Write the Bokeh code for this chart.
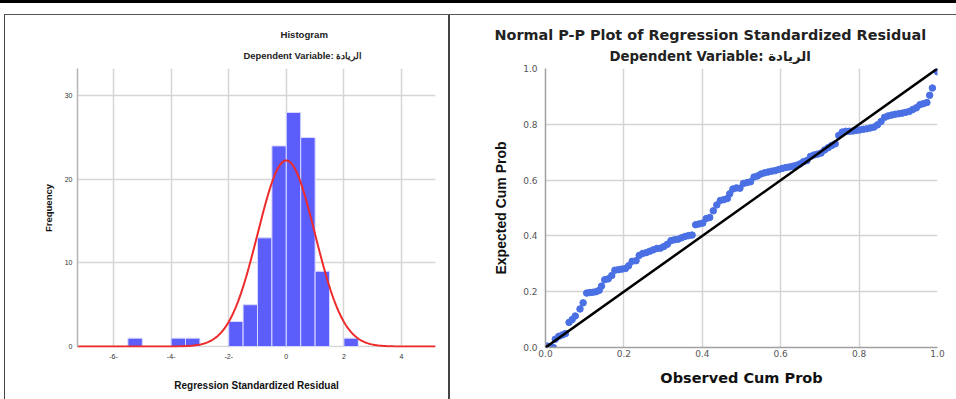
import numpy as np
from bokeh.plotting import figure
from bokeh.layouts import row, column
from bokeh.models import Title, FixedTicker, Range1d, Slope, Div
from bokeh.embed import file_html
from bokeh.resources import INLINE

# ---------------- Histogram data ----------------
bin_left = [-5.5, -4.0, -3.5, -2.0, -1.5, -1.0, -0.5, 0.0, 0.5, 1.0, 2.0]
bin_width = 0.5
freq = [1, 1, 1, 3, 5, 13, 24, 28, 25, 9, 1]
resid_mean = 0.0
resid_sd = 0.995
n_cases = 111
hist_xticks = [-6, -4, -2, 0, 2, 4]
hist_xtick_labels = ["-6-", "-4-", "-2-", "0", "2", "4"]
hist_yticks = [0, 10, 20, 30]

# ---------------- P-P plot data ----------------
obs_cum = [0.005, 0.02, 0.025, 0.034, 0.043, 0.051, 0.06, 0.068, 0.076, 0.088, 0.096,
           0.105, 0.113, 0.121, 0.129, 0.137, 0.143, 0.151, 0.16, 0.169, 0.177, 0.186,
           0.195, 0.204, 0.212, 0.221, 0.231, 0.239, 0.248, 0.257, 0.266, 0.275, 0.284,
           0.293, 0.302, 0.311, 0.32, 0.329, 0.338, 0.347, 0.356, 0.365, 0.374, 0.383,
           0.392, 0.401, 0.41, 0.419, 0.428, 0.437, 0.446, 0.455, 0.464, 0.47, 0.478,
           0.487, 0.496, 0.505, 0.514, 0.523, 0.532, 0.541, 0.55, 0.559, 0.568, 0.577,
           0.586, 0.595, 0.604, 0.613, 0.622, 0.631, 0.64, 0.649, 0.658, 0.667, 0.676,
           0.685, 0.694, 0.703, 0.712, 0.721, 0.73, 0.739, 0.748, 0.757, 0.766, 0.775,
           0.784, 0.793, 0.802, 0.811, 0.82, 0.829, 0.838, 0.847, 0.856, 0.865, 0.874,
           0.883, 0.892, 0.901, 0.91, 0.919, 0.928, 0.937, 0.946, 0.955, 0.964, 0.973,
           0.98, 0.987, 1.0]
exp_cum = [0.005, 0.0, 0.03, 0.04, 0.045, 0.05, 0.09, 0.10, 0.113, 0.138, 0.16,
           0.195, 0.197, 0.198, 0.2, 0.205, 0.22, 0.243, 0.246, 0.258, 0.277, 0.279,
           0.281, 0.283, 0.293, 0.309, 0.311, 0.33, 0.337, 0.34, 0.345, 0.35, 0.355,
           0.356, 0.362, 0.37, 0.383, 0.386, 0.388, 0.393, 0.398, 0.401, 0.403, 0.44,
           0.443, 0.446, 0.462, 0.466, 0.49, 0.511, 0.527, 0.53, 0.534, 0.551, 0.568,
           0.572, 0.571, 0.588, 0.591, 0.594, 0.611, 0.615, 0.622, 0.626, 0.629, 0.632,
           0.634, 0.638, 0.642, 0.645, 0.647, 0.65, 0.653, 0.658, 0.666, 0.67, 0.685,
           0.69, 0.693, 0.697, 0.708, 0.716, 0.724, 0.73, 0.76, 0.772, 0.775, 0.775,
           0.776, 0.778, 0.78, 0.782, 0.784, 0.787, 0.79, 0.798, 0.81, 0.825, 0.83,
           0.833, 0.836, 0.838, 0.84, 0.843, 0.846, 0.853, 0.859, 0.87, 0.874, 0.878,
           0.904, 0.93, 0.988]
pp_ticks = [0.0, 0.2, 0.4, 0.6, 0.8, 1.0]
pp_tick_labels = ["0.0", "0.2", "0.4", "0.6", "0.8", "1.0"]

hist_title = "Histogram"
dep_title = "Dependent Variable: الريادة"
pp_title = "Normal P-P Plot of Regression Standardized Residual"

NARROW = "Liberation Sans"
WIDE = "DejaVu Sans"

# page geometry: top strip 15px, row below it
ROW_H = 384

# ---------------- Histogram figure ----------------
HW = 443
h = figure(width=HW, height=ROW_H, x_range=Range1d(-7.25, 5.18), y_range=Range1d(-0.116, 33.26),
           output_backend="svg", toolbar_location=None, title=None,
           min_border_left=72, min_border_right=13, min_border_top=53, min_border_bottom=43)
h.outline_line_color = None
h.xgrid.grid_line_color = "#d6d6d6"
h.ygrid.grid_line_color = "#d6d6d6"
h.xgrid.grid_line_width = 1.5
h.ygrid.grid_line_width = 1.5
h.xaxis.ticker = FixedTicker(ticks=hist_xticks)
h.xaxis.major_label_overrides = {t: l for t, l in zip(hist_xticks, hist_xtick_labels)}
h.yaxis.ticker = FixedTicker(ticks=hist_yticks)
for ax in (h.xaxis, h.yaxis):
    ax.major_tick_line_color = None
    ax.major_tick_out = 0
    ax.major_tick_in = 0
    ax.minor_tick_line_color = None
    ax.minor_tick_out = 0
    ax.major_label_text_font = NARROW
    ax.major_label_text_font_size = "7px"
    ax.major_label_text_color = "#333333"
    ax.axis_label_text_font = NARROW
    ax.axis_label_text_font_style = "bold"
    ax.axis_label_text_color = "#111111"
h.xaxis.axis_line_color = None
h.yaxis.axis_line_color = "#b4b4b4"
h.yaxis.axis_line_width = 1.5
h.xaxis.major_label_standoff = 6
h.yaxis.major_label_standoff = 5
h.xaxis.axis_label = "Regression Standardized Residual"
h.xaxis.axis_label_text_font_size = "10px"
h.xaxis.axis_label_standoff = 18
h.yaxis.axis_label = "Frequency"
h.yaxis.axis_label_text_font_size = "9.5px"
h.yaxis.axis_label_standoff = 8

bin_right = [b + bin_width for b in bin_left]
h.quad(left=bin_left, right=bin_right, bottom=0, top=freq,
       fill_color="#5B5EFB", line_color="#d9d9ff", line_width=1)

curve_x = np.linspace(-7.25, 5.18, 400)
curve_y = n_cases * bin_width * np.exp(-0.5 * ((curve_x - resid_mean) / resid_sd) ** 2) / (resid_sd * np.sqrt(2 * np.pi))
h.line(curve_x, curve_y, line_color="#EE2A2A", line_width=2)

h.add_layout(Title(text=dep_title, align="left", offset=166, standoff=16,
                   text_font=NARROW, text_font_size="9.4px", text_font_style="bold",
                   text_color="#222222"), "above")
h.add_layout(Title(text=hist_title, align="left", offset=203, standoff=0,
                   text_font=NARROW, text_font_size="9.6px", text_font_style="bold",
                   text_color="#222222"), "above")

# ---------------- P-P figure ----------------
PW = 506
pp = figure(width=PW, height=ROW_H, x_range=Range1d(0, 1), y_range=Range1d(0, 1),
            output_backend="svg", toolbar_location=None, title=None,
            min_border_left=95, min_border_right=19, min_border_top=53, min_border_bottom=52)
pp.outline_line_color = None
pp.xgrid.grid_line_color = "#d4d4d4"
pp.ygrid.grid_line_color = "#d4d4d4"
pp.xgrid.grid_line_width = 1.5
pp.ygrid.grid_line_width = 1.5
for ax in (pp.xaxis, pp.yaxis):
    ax.ticker = FixedTicker(ticks=pp_ticks)
    ax.major_label_overrides = {t: l for t, l in zip(pp_ticks, pp_tick_labels)}
    ax.major_tick_line_color = None
    ax.major_tick_out = 0
    ax.major_tick_in = 0
    ax.minor_tick_line_color = None
    ax.minor_tick_out = 0
    ax.major_label_text_font = WIDE
    ax.major_label_text_font_size = "9px"
    ax.major_label_text_color = "#555555"
    ax.axis_line_color = "#a0a0a0"
    ax.axis_line_width = 1.5
    ax.axis_label_text_font_style = "bold"
    ax.axis_label_text_color = "#111111"
pp.xaxis.major_label_standoff = 2
pp.yaxis.major_label_standoff = 8
pp.xaxis.axis_label = "Observed Cum Prob"
pp.xaxis.axis_label_text_font = WIDE
pp.xaxis.axis_label_text_font_size = "14.5px"
pp.xaxis.axis_label_standoff = 10
pp.yaxis.axis_label = "Expected Cum Prob"
pp.yaxis.axis_label_text_font = NARROW
pp.yaxis.axis_label_text_font_size = "14px"
pp.yaxis.axis_label_standoff = 11

pp.add_layout(Slope(gradient=1, y_intercept=0, line_color="black", line_width=2.5))
pp.scatter(obs_cum, exp_cum, size=6.5, fill_color="#4A70E4", line_color="#4A70E4")

pp.add_layout(Title(text=dep_title, align="left", offset=64, standoff=10,
                    text_font=WIDE, text_font_size="13.3px", text_font_style="bold",
                    text_color="#222222"), "above")
pp.add_layout(Title(text=pp_title, align="left", offset=-51, standoff=-2,
                    text_font=WIDE, text_font_size="14.4px", text_font_style="bold",
                    text_color="#222222"), "above")

# ---------------- page frame (rules and panel borders) ----------------
def rule(w, hgt, color):
    return Div(text="", width=w, height=hgt, margin=0, styles={"background-color": color})

top_strip = column(
    rule(956, 3, "#000000"),
    rule(956, 11, "#ffffff"),
    row(rule(4, 1, "#ffffff"), rule(952, 1, "#555555"), margin=0, spacing=0),
    margin=0, spacing=0)

body = row(rule(4, ROW_H, "#ffffff"), rule(1, ROW_H, "#444444"), h,
           rule(2, ROW_H, "#444444"), pp, margin=0, spacing=0)

layout = column(top_strip, body, margin=0, spacing=0)
open("out.html", "w").write(file_html(layout, INLINE))
